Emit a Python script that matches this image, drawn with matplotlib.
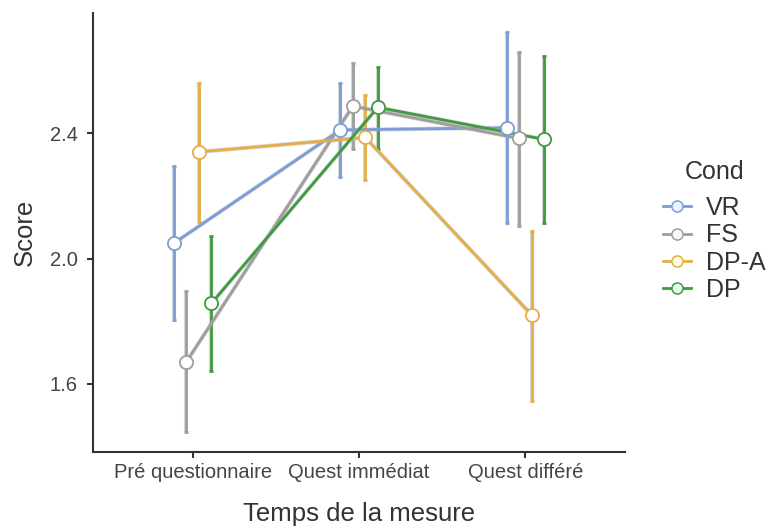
import matplotlib
matplotlib.use("Agg")
import matplotlib.pyplot as plt
import matplotlib.patheffects as pe
from matplotlib.lines import Line2D
import numpy as np

plt.rcParams['font.family'] = ['Liberation Sans', 'DejaVu Sans']

categories = ["Pré questionnaire", "Quest immédiat", "Quest différé"]
conds = ["VR", "FS", "DP-A", "DP"]
means = {
    "VR":   [2.049, 2.410, 2.417],
    "FS":   [1.671, 2.486, 2.383],
    "DP-A": [2.340, 2.386, 1.820],
    "DP":   [1.857, 2.482, 2.380],
}
lower = {
    "VR":   [1.804, 2.260, 2.114],
    "FS":   [1.448, 2.348, 2.104],
    "DP-A": [2.118, 2.250, 1.547],
    "DP":   [1.642, 2.348, 2.112],
}
upper = {
    "VR":   [2.295, 2.560, 2.722],
    "FS":   [1.897, 2.624, 2.659],
    "DP-A": [2.560, 2.521, 2.089],
    "DP":   [2.073, 2.611, 2.645],
}
colors = {"VR": "#7B9DD8", "FS": "#9E9E9E", "DP-A": "#E5AE48", "DP": "#3E9B3E"}
fills = {"VR": "#EEF2FB", "FS": "#F7F7F7", "DP-A": "#FBFBE0", "DP": "#EEF7EE"}
offsets = [-0.1125, -0.0375, 0.0375, 0.1125]

fig = plt.figure(figsize=(7.68, 5.26), dpi=100)
ax = fig.add_axes([0.121, 0.1407, 0.693, 0.834])

x = np.arange(len(categories))
outline = [pe.Stroke(linewidth=3.0, foreground="#b0b0b0", alpha=0.5), pe.Normal()]
for i, c in enumerate(conds):
    xs = x + offsets[i]
    m = np.array(means[c]); lo = np.array(lower[c]); hi = np.array(upper[c])
    ax.vlines(xs, lo, hi, color=colors[c], lw=2.0, zorder=2, path_effects=outline)
    ax.plot(xs, lo, ls="none", marker="_", ms=3.5, mew=2, color=colors[c], zorder=2)
    ax.plot(xs, hi, ls="none", marker="_", ms=3.5, mew=2, color=colors[c], zorder=2)
    ax.plot(xs, m, color=colors[c], lw=2.0, zorder=3, path_effects=outline)
for i, c in enumerate(conds):
    xs = x + offsets[i]
    ax.plot(xs, means[c], ls="none", marker="o", ms=9.5, mfc="white",
            mec=colors[c], mew=1.3, zorder=4)

ax.set_xlim(-0.6, 2.6)
ax.set_ylim(1.383, 2.782)
ax.set_xticks(x)
ax.set_xticklabels(categories, fontsize=14.5, color="#444444")
ax.set_yticks([1.6, 2.0, 2.4])
ax.set_yticklabels(["1.6", "2.0", "2.4"], fontsize=14.5, color="#444444")
ax.tick_params(axis="x", length=4, width=1.5, color="#333333", pad=4)
ax.tick_params(axis="y", length=4, width=1.5, color="#333333", pad=7)
for s in ["top", "right"]:
    ax.spines[s].set_visible(False)
for s in ["left", "bottom"]:
    ax.spines[s].set_linewidth(1.5)
    ax.spines[s].set_color("#333333")
ax.set_xlabel("Temps de la mesure", fontsize=18.5, color="#333333", labelpad=14)
ax.set_ylabel("Score", fontsize=18.5, color="#333333", labelpad=9)

handles = [Line2D([0], [0], color=colors[c], lw=2, marker="o", ms=8, mfc=fills[c],
                  mec=colors[c], mew=1.1) for c in conds]
fig.text(715 / 768, 1 - 172 / 526, "Cond", fontsize=18, color="#333333",
         ha="center", va="center")
leg = fig.legend(handles, conds, loc="center left",
                 bbox_to_anchor=(663 / 768, 1 - 249 / 526), frameon=False,
                 fontsize=18, handlelength=1.1, handletextpad=0.6,
                 labelspacing=0.13, borderpad=0, borderaxespad=0)
for t in leg.get_texts():
    t.set_color("#333333")

fig.savefig("out.png", dpi=100)
